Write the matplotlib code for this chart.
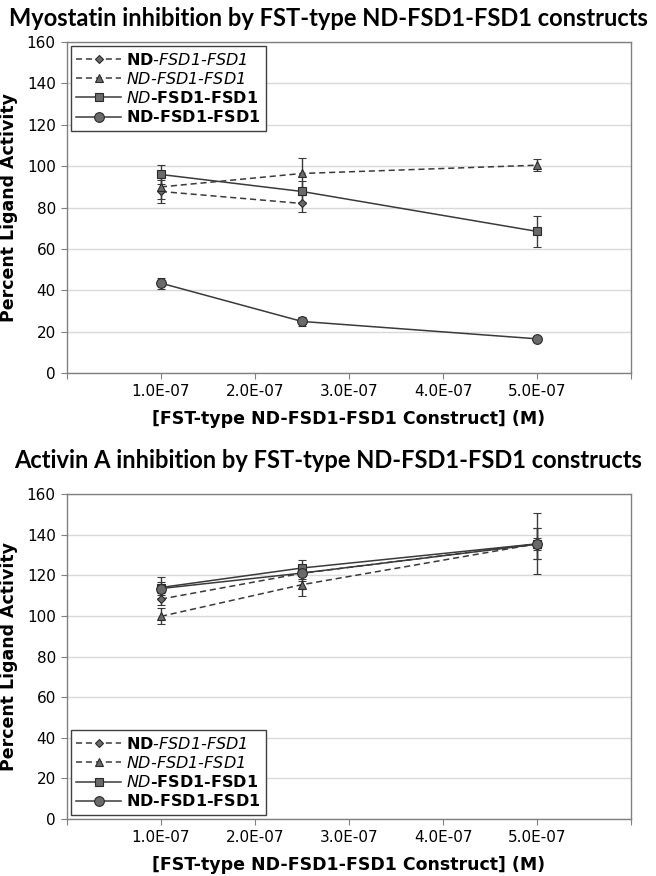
import matplotlib.pyplot as plt
import numpy as np

plt.rcParams['font.family'] = 'DejaVu Sans'
plt.rcParams['mathtext.fontset'] = 'custom'
plt.rcParams['mathtext.rm'] = 'DejaVu Sans'
plt.rcParams['mathtext.sf'] = 'DejaVu Sans:italic'
plt.rcParams['mathtext.bf'] = 'DejaVu Sans:bold'

# concentrations (M)
conc = [1.0e-7, 2.5e-7, 5.0e-7]

# Myostatin panel
myo_diamond = [87.8, 82.0, np.nan]
myo_diamond_err = [5.5, 4.0, np.nan]
myo_triangle = [90.0, 96.5, 100.5]
myo_triangle_err = [6.0, 7.7, 3.0]
myo_square = [96.0, 87.8, 68.5]
myo_square_err = [4.6, 5.0, 7.6]
myo_circle = [43.5, 25.0, 16.6]
myo_circle_err = [2.7, 2.0, 1.0]

# Activin A panel
act_diamond = [108.3, 121.0, 135.5]
act_diamond_err = [3.0, 4.0, 7.6]
act_triangle = [99.8, 115.4, 135.5]
act_triangle_err = [4.0, 5.8, 15.0]
act_square = [114.0, 123.6, 135.5]
act_square_err = [5.0, 4.0, 7.6]
act_circle = [113.5, 121.1, 135.3]
act_circle_err = [3.0, 3.0, 3.0]

# \mathsf is mapped to the italic face so digits stay italic too
labels = [
    r'$\mathbf{ND}\mathsf{‐FSD1‐FSD1}$',
    r'$\mathsf{ND‐FSD1‐FSD1}$',
    r'$\mathsf{ND}\mathbf{‐FSD1‐FSD1}$',
    r'$\mathbf{ND‐FSD1‐FSD1}$',
]

xticks = [0, 1e-7, 2e-7, 3e-7, 4e-7, 5e-7, 6e-7]
xticklabels = ['', '1.0E-07', '2.0E-07', '3.0E-07', '4.0E-07', '5.0E-07', '']

line_col = '#3a3a3a'
face_col = '#6a6a6a'

styles = [
    dict(marker='D', ms=4.5, ls='--'),
    dict(marker='^', ms=6, ls='--'),
    dict(marker='s', ms=5.5, ls='-'),
    dict(marker='o', ms=7, ls='-'),
]


def draw_panel(ax, series, errs, legend_loc):
    for y, e, st, lab in zip(series, errs, styles, labels):
        ax.errorbar(conc, y, yerr=e, color=line_col, linestyle=st['ls'], linewidth=1.1,
                     marker=st['marker'], markersize=st['ms'], markerfacecolor=face_col,
                     markeredgecolor='#2a2a2a', markeredgewidth=0.8,
                     ecolor=line_col, elinewidth=1.0, capsize=3, capthick=1.0,
                     dashes=(4, 2.5) if st['ls'] == '--' else (None, None),
                     label=lab)
    ax.set_xlim(0, 6e-7)
    ax.set_ylim(0, 160)
    ax.set_yticks(np.arange(0, 161, 20))
    ax.set_xticks(xticks)
    ax.set_xticklabels(xticklabels)
    ax.tick_params(axis='both', direction='out', length=4, color='#808080', labelsize=11, pad=4)
    ax.grid(axis='y', color='#d9d9d9', linewidth=1)
    ax.set_axisbelow(True)
    for sp in ax.spines.values():
        sp.set_color('#808080')
        sp.set_linewidth(1)
    ax.set_ylabel('Percent Ligand Activity', fontsize=12.5, fontweight='bold', labelpad=6)
    ax.set_xlabel('[FST-type ND-FSD1-FSD1 Construct] (M)', fontsize=12.5, fontweight='bold', labelpad=8)

    handles, labs = ax.get_legend_handles_labels()
    handles = [h[0] for h in handles]
    leg = ax.legend(handles, labs, loc=legend_loc, fontsize=11.5, frameon=True, fancybox=False,
                    edgecolor='#404040', framealpha=1, borderaxespad=0.25, handlelength=2.8,
                    handletextpad=0.3, labelspacing=0.2, borderpad=0.35)
    leg.get_frame().set_linewidth(1)


fig = plt.figure(figsize=(6.56, 8.76), dpi=100)

ax1 = fig.add_axes([0.102, 0.574, 0.860, 0.378])
draw_panel(ax1, [myo_diamond, myo_triangle, myo_square, myo_circle],
           [myo_diamond_err, myo_triangle_err, myo_square_err, myo_circle_err], 'upper left')
fig.text(0.5, 0.979, 'Myostatin inhibition by FST-type ND-FSD1-FSD1 constructs',
         ha='center', va='center', fontsize=17, fontweight='bold', family='Lato')

ax2 = fig.add_axes([0.102, 0.065, 0.860, 0.371])
draw_panel(ax2, [act_diamond, act_triangle, act_square, act_circle],
           [act_diamond_err, act_triangle_err, act_square_err, act_circle_err], 'lower left')
fig.text(0.5, 0.474, 'Activin A inhibition by FST-type ND-FSD1-FSD1 constructs',
         ha='center', va='center', fontsize=17, fontweight='bold', family='Lato')

fig.savefig('out.png', dpi=100)
